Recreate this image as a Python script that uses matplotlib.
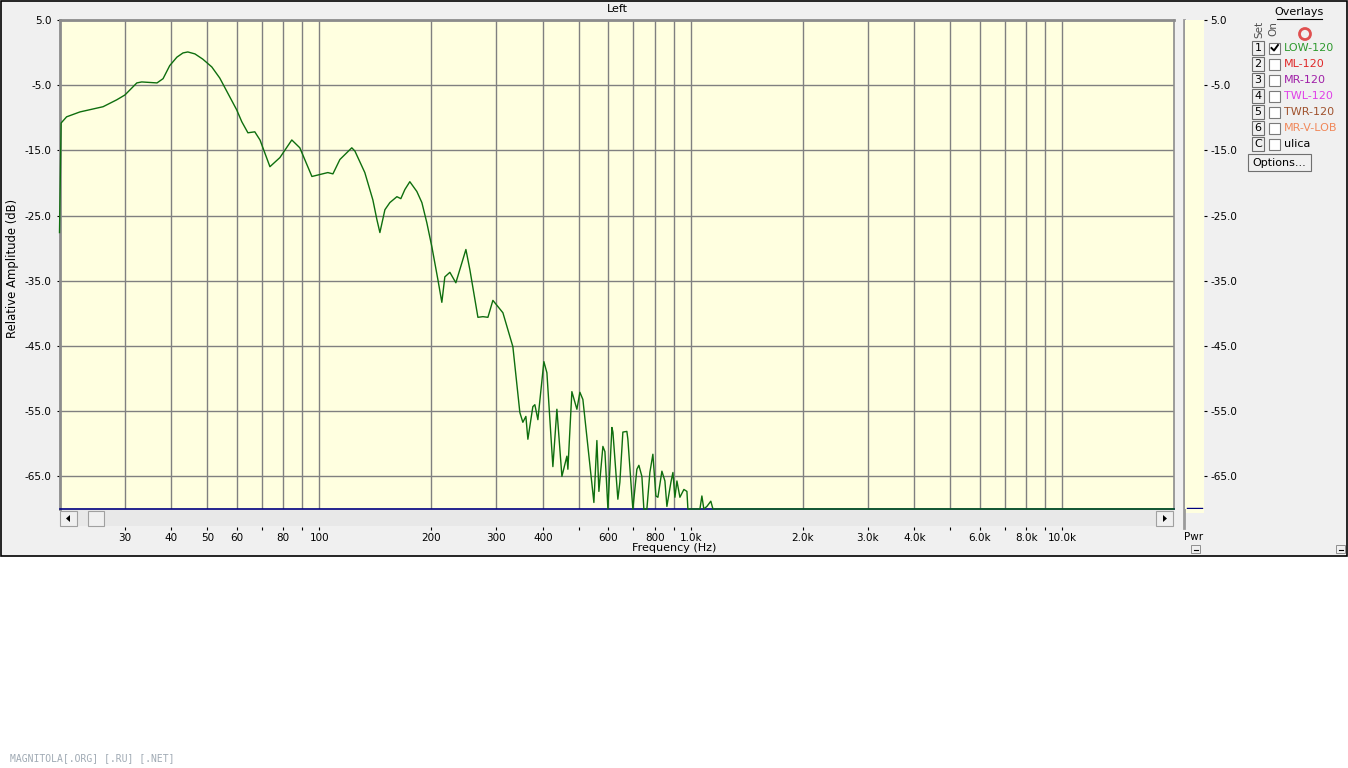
import numpy as np
import matplotlib
matplotlib.use('Agg')
import matplotlib.pyplot as plt
from matplotlib.patches import Rectangle, Polygon, Circle
from matplotlib.ticker import FixedLocator, FixedFormatter, NullLocator

W, H = 1348, 768

# ---------------- data ----------------
freq_hz = [20.0, 20.2, 20.9, 22.7, 26.2, 28.5, 30.0, 32.3, 33.3, 36.6,
           38.0, 39.6, 41.4, 43.0, 44.3, 46.3, 48.6, 51.4, 54.0, 60.0, 61.9,
           64.3, 67.1, 69.3, 73.7,
           78.4, 84.4, 88.7, 95.6, 105.5, 108.9, 113.7, 122.4, 124.8, 132.7,
           139.5, 143.0, 145.7, 150.3, 155.0, 161.9, 165.9, 170.1, 175.4, 183.2,
           189.0, 194.9, 201.1, 208.7, 213.9, 217.9, 224.8, 233.3, 248.3, 254.5,
           267.5, 275.9, 284.6, 293.5, 312.3, 332.2, 346.9, 353.4, 360.1, 364.6,
           376.0, 380.7, 387.9, 402.6, 410.2, 425.7, 436.4, 450.2, 464.3, 467.2,
           478.9, 494.0, 503.3, 512.7, 528.9, 548.9, 559.2, 566.2, 580.4, 587.7,
           595.0, 598.7, 613.8, 617.6, 636.8, 644.8, 656.9, 673.4, 677.6, 694.6,
           698.9, 716.5, 725.4, 739.1, 748.2, 762.3, 776.6, 791.2, 806.1, 816.2,
           836.7, 852.4, 863.0, 884.7, 895.8, 907.0, 918.4, 935.5, 958.9, 977.0,
           983.0, 1059.0, 1072.0, 1085.0, 1106.0, 1133.0, 1148.0, 20000.0]
level_db = [-27.6, -10.8, -9.85, -9.1, -8.3, -7.25, -6.5, -4.65, -4.5, -4.65,
            -4.0, -2.0, -0.7, -0.05, 0.1, -0.2, -1.0, -2.2, -3.9, -8.8, -10.6,
            -12.3, -12.15, -13.4, -17.5,
            -16.1, -13.4, -14.6, -19.0, -18.4, -18.6, -16.4, -14.6, -15.1, -18.4,
            -22.6, -25.6, -27.6, -24.1, -23.0, -22.1, -22.4, -21.0, -19.8, -21.3,
            -23.0, -26.1, -29.8, -34.8, -38.3, -34.4, -33.7, -35.3, -30.2, -33.3,
            -40.6, -40.5, -40.6, -38.0, -39.9, -45.1, -55.2, -56.7, -55.8, -59.3,
            -54.3, -54.0, -56.3, -47.4, -49.1, -63.5, -54.7, -65.0, -61.9, -63.9,
            -52.0, -54.7, -52.1, -53.2, -60.4, -69.0, -59.5, -67.3, -60.4, -61.2,
            -67.0, -70.0, -57.5, -58.2, -68.5, -65.9, -58.2, -58.1, -59.3, -68.0,
            -70.0, -63.9, -63.3, -65.0, -70.0, -70.0, -64.4, -61.6, -68.0, -68.2,
            -64.2, -65.7, -69.6, -65.9, -64.4, -68.2, -65.7, -68.2, -67.0, -67.3,
            -70.0, -70.0, -68.0, -70.0, -69.6, -68.8, -70.0, -70.0]

x_grid_hz = [30, 40, 50, 60, 70, 80, 90, 100, 200, 300, 400, 500, 600, 700, 800, 900,
             1000, 2000, 3000, 4000, 5000, 6000, 7000, 8000, 9000, 10000]
x_tick_labels = ['30', '40', '50', '60', '', '80', '', '100', '200', '300', '400', '', '600', '',
                 '800', '', '1.0k', '2.0k', '3.0k', '4.0k', '', '6.0k', '', '8.0k', '', '10.0k']
y_ticks_db = [5, -5, -15, -25, -35, -45, -55, -65]
y_tick_labels = ['5.0', '-5.0', '-15.0', '-25.0', '-35.0', '-45.0', '-55.0', '-65.0']

overlay_sets = ['1', '2', '3', '4', '5', '6', 'C']
overlay_names = ['LOW-120', 'ML-120', 'MR-120', 'TWL-120', 'TWR-120', 'MR-V-LOB', 'ulica']
overlay_on = [True, False, False, False, False, False, False]
overlay_colors = ['#2E9A2E', '#E02828', '#A020A8', '#E040E8', '#A0522D', '#F0885A', '#000000']

pwr_level_db = -69.8

# ---------------- figure ----------------
plt.rcParams['font.family'] = ['DejaVu Sans']
fig = plt.figure(figsize=(W / 100, H / 100), dpi=100)
fig.patch.set_facecolor('white')


def rect(x0, y0, x1, y1):
    return [x0 / W, 1 - y1 / H, (x1 - x0) / W, (y1 - y0) / H]


bg = fig.add_axes([0, 0, 1, 1])
bg.set_xlim(0, W)
bg.set_ylim(H, 0)
bg.axis('off')

# window
bg.add_patch(Rectangle((0.5, 0.5), W - 1.5, 555, facecolor='#F0F0F0', edgecolor='black', lw=1.2))

# scrollbar
bg.add_patch(Rectangle((59.5, 510), 1114.5, 16, facecolor='#E8E8E8', edgecolor='none'))
for (bx, bw) in [(60, 17), (88, 16), (1156, 17)]:
    bg.add_patch(Rectangle((bx, 511), bw, 15, facecolor='#F0F0F0', edgecolor='#A0A0A0', lw=0.8))
bg.add_patch(Polygon([(66, 518.5), (70, 515), (70, 522)], closed=True, facecolor='black', edgecolor='none'))
bg.add_patch(Polygon([(1167, 518.5), (1163, 515), (1163, 522)], closed=True, facecolor='black', edgecolor='none'))

# Pwr panel extras
bg.add_patch(Rectangle((1184, 509), 20, 4, facecolor='#FFFFE0', edgecolor='none'))
bg.plot([1184, 1184], [20, 528], color='#9A9A9A', lw=2)
bg.text(1194, 537, 'Pwr', ha='center', va='center', fontsize=7.5)
bg.add_patch(Rectangle((1191, 545), 9, 8, facecolor='#F0F0F0', edgecolor='#909090', lw=0.7))
bg.plot([1193.5, 1197.5], [550, 550], color='black', lw=0.8)
bg.add_patch(Rectangle((1336, 545), 9, 8, facecolor='#F0F0F0', edgecolor='#909090', lw=0.7))
bg.plot([1338.5, 1342.5], [550, 550], color='black', lw=0.8)

# PHS logo
bg.add_patch(Rectangle((1127, 22), 45, 22, facecolor='black', edgecolor='#808080', lw=0.8))
bg.text(1149.5, 32.5, 'PHS', ha='center', va='center', color='white', fontsize=11,
        fontweight='bold', family='Liberation Serif')
bg.plot([1131, 1168], [41.5, 41.5], color='white', lw=1)

# overlays panel
bg.text(1299, 12, 'Overlays', ha='center', va='center', fontsize=8)
bg.plot([1277, 1322], [18.5, 18.5], color='black', lw=0.8)
bg.add_patch(Circle((1305, 34), 5.5, facecolor='none', edgecolor='#E05050', lw=2))
bg.text(1259, 29, 'Set', rotation=90, ha='center', va='center', fontsize=7.5, color='#505050')
bg.text(1273, 29, 'On', rotation=90, ha='center', va='center', fontsize=7.5, color='#505050')
for i, (s, nm, on, c) in enumerate(zip(overlay_sets, overlay_names, overlay_on, overlay_colors)):
    yc = 48 + 16 * i
    bg.add_patch(Rectangle((1252, yc - 7), 12, 14, facecolor='#F0F0F0', edgecolor='#707070', lw=0.8))
    bg.text(1258, yc, s, ha='center', va='center', fontsize=8)
    bg.add_patch(Rectangle((1269, yc - 5.5), 11, 11, facecolor='white', edgecolor='#7A7A7A', lw=0.8))
    if on:
        bg.plot([1271.5, 1274, 1278], [yc, yc + 2.5, yc - 3], color='black', lw=1.4)
    bg.text(1284, yc, nm, ha='left', va='center', fontsize=8, color=c)
bg.add_patch(Rectangle((1248, 154), 63, 17, facecolor='#F0F0F0', edgecolor='#707070', lw=0.8))
bg.text(1279.5, 162.5, 'Options...', ha='center', va='center', fontsize=8)

# texts
bg.text(617, 9, 'Left', ha='center', va='center', fontsize=8)
bg.text(674, 548, 'Frequency (Hz)', ha='center', va='center', fontsize=8)
bg.text(13, 268, 'Relative Amplitude (dB)', ha='center', va='center', rotation=90, fontsize=8.4)
bg.text(10, 758, 'MAGNITOLA[.ORG] [.RU] [.NET]', ha='left', va='center', fontsize=7,
        family='DejaVu Sans Mono', color='#A0AAB4')

# ---------------- main plot ----------------
ax = fig.add_axes(rect(59.5, 20, 1174, 509))
ax.set_facecolor('#FFFFE0')
ax.set_xscale('log')
ax.set_xlim(20, 20000)
ax.set_ylim(-70, 5)
ax.xaxis.set_major_locator(FixedLocator(x_grid_hz))
ax.xaxis.set_minor_locator(NullLocator())
ax.tick_params(axis='x', which='both', bottom=False, labelbottom=False)
ax.yaxis.set_major_locator(FixedLocator(y_ticks_db))
ax.yaxis.set_major_formatter(FixedFormatter(y_tick_labels))
ax.tick_params(axis='y', length=2.5, width=0.8, pad=3, labelsize=7.5)
ax.grid(True, color='#808080', lw=1)
ax.set_axisbelow(True)
for side in ['left', 'top']:
    ax.spines[side].set_color('#8C8C8C')
    ax.spines[side].set_linewidth(2)
ax.spines['right'].set_color('#8C8C8C')
ax.spines['right'].set_linewidth(1.2)
ax.spines['bottom'].set_color('#000080')
ax.spines['bottom'].set_linewidth(1.2)
ax.plot(freq_hz, level_db, color='#0E6E0E', lw=1.0, zorder=3, clip_on=False)

# x tick axis below the scrollbar
tx = fig.add_axes(rect(59.5, 520, 1174, 530))
tx.set_xscale('log')
tx.set_xlim(20, 20000)
tx.patch.set_alpha(0)
for sp in tx.spines.values():
    sp.set_visible(False)
tx.set_yticks([])
tx.xaxis.set_major_locator(FixedLocator(x_grid_hz))
tx.xaxis.set_major_formatter(FixedFormatter(x_tick_labels))
tx.xaxis.set_minor_locator(NullLocator())
tx.tick_params(axis='x', direction='in', length=2.5, width=0.8, pad=2.5, labelsize=7.5)

# Pwr panel
pa = fig.add_axes(rect(1185, 20, 1204, 509))
pa.set_facecolor('#FFFFE0')
pa.set_xlim(0, 1)
pa.set_ylim(-70, 5)
pa.set_xticks([])
pa.yaxis.tick_right()
pa.yaxis.set_major_locator(FixedLocator(y_ticks_db))
pa.yaxis.set_major_formatter(FixedFormatter(y_tick_labels))
pa.tick_params(axis='y', length=2.5, width=0.8, pad=2, labelsize=7.5)
for sp in pa.spines.values():
    sp.set_visible(False)
pa.axhline(pwr_level_db, xmin=0.08, xmax=0.9, color='#000080', lw=1)

fig.savefig('out.png', dpi=100, facecolor='white')
